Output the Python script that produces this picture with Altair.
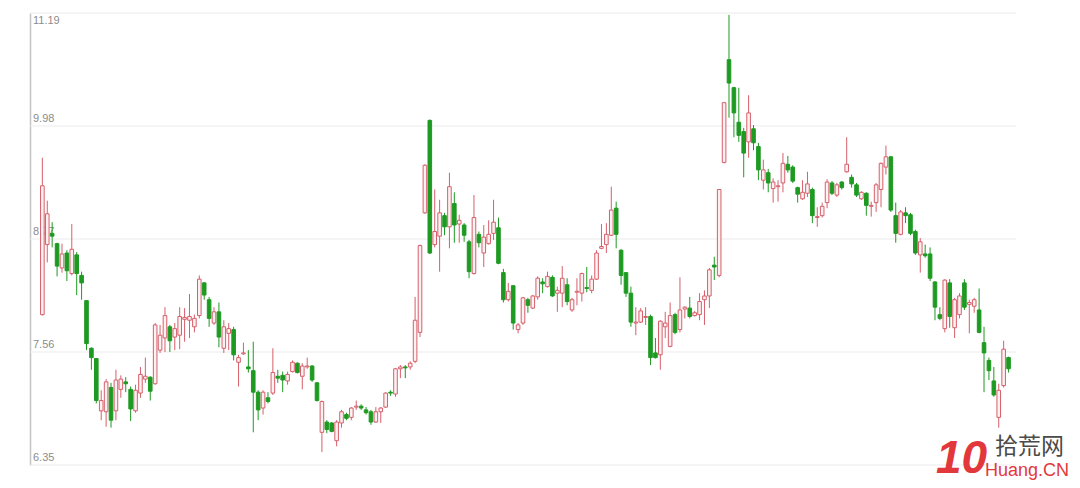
import altair as alt
import pandas as pd

opens = [7.96, 8.71, 8.83, 8.72, 8.46, 8.62, 8.40, 8.60, 8.38, 8.11,
         7.60, 7.49, 6.93, 6.92, 7.18, 6.93, 7.16, 7.24, 7.16, 6.93,
         7.12, 7.27, 7.29, 7.22, 7.58, 7.71, 7.83, 7.72, 7.74, 7.91,
         7.90, 7.83, 7.95, 8.30, 8.12, 7.87, 7.99, 7.60, 7.76, 7.80,
         7.45, 7.54, 7.40, 7.36, 7.13, 6.96, 7.07, 7.12, 7.30, 7.31,
         7.25, 7.35, 7.44, 7.30, 7.40, 7.41, 7.23, 6.70, 6.81, 6.80,
         6.61, 6.80, 6.89, 6.86, 6.97, 6.98, 6.94, 6.92, 6.81, 6.92,
         6.97, 7.13, 7.11, 7.38, 7.40, 7.40, 7.46, 7.77, 9.05, 10.04,
         8.71, 8.80, 9.02, 8.90, 9.15, 8.93, 8.92, 8.74, 8.40, 8.82,
         8.62, 8.72, 8.83, 8.89, 8.41, 8.12, 8.27, 7.80, 7.87, 8.12,
         8.03, 8.15, 8.31, 8.26, 8.36, 8.19, 8.19, 8.28, 8.01, 8.20,
         8.19, 8.25, 8.22, 8.34, 8.67, 8.71, 8.81, 9.10, 8.65, 8.41,
         8.19, 7.87, 7.88, 7.93, 7.94, 7.55, 7.53, 7.83, 7.62, 7.96,
         7.80, 8.02, 8.03, 7.95, 7.96, 8.12, 8.16, 8.49, 8.38, 9.59,
         10.69, 10.39, 10.02, 9.92, 9.81, 9.95, 9.76, 9.40, 9.48, 9.31,
         9.33, 9.37, 9.57, 9.54, 9.32, 9.20, 9.26, 9.30, 9.00, 9.02,
         9.16, 9.37, 9.24, 9.38, 9.49, 9.43, 9.35, 9.20, 9.26, 9.12,
         9.16, 9.30, 9.54, 9.65, 9.02, 8.82, 9.05, 9.03, 8.85, 8.60,
         8.61, 8.61, 8.31, 7.96, 7.81, 8.30, 7.82, 7.96, 8.30, 8.07,
         8.05, 8.01, 7.66, 7.47, 7.25, 6.86, 7.20, 7.50]
highs = [9.64, 9.18, 8.95, 8.73, 8.72, 8.65, 8.93, 8.63, 8.42, 8.11,
         7.61, 7.49, 7.15, 7.27, 7.23, 7.37, 7.31, 7.29, 7.19, 7.21,
         7.40, 7.50, 7.30, 7.87, 7.85, 8.04, 7.85, 7.87, 8.04, 8.03,
         8.18, 7.96, 8.38, 8.31, 8.15, 8.04, 8.09, 7.90, 7.87, 7.83,
         7.53, 7.66, 7.58, 7.67, 7.15, 7.15, 7.13, 7.60, 7.37, 7.35,
         7.35, 7.47, 7.45, 7.44, 7.50, 7.42, 7.24, 7.04, 6.83, 6.81,
         6.83, 6.94, 6.91, 6.97, 7.04, 7.00, 6.97, 6.94, 6.97, 6.97,
         7.13, 7.15, 7.39, 7.42, 7.42, 7.46, 8.15, 8.71, 9.57, 10.05,
         9.30, 9.19, 9.05, 9.48, 9.27, 9.03, 8.94, 8.76, 9.24, 8.85,
         8.92, 8.97, 9.19, 9.00, 8.45, 8.30, 8.27, 7.87, 8.15, 8.14,
         8.17, 8.37, 8.35, 8.42, 8.38, 8.26, 8.48, 8.35, 8.14, 8.35,
         8.41, 8.47, 8.38, 8.65, 8.93, 8.94, 9.33, 9.17, 8.66, 8.41,
         8.26, 8.04, 8.03, 8.04, 7.96, 7.71, 7.90, 7.99, 8.09, 7.98,
         8.36, 8.05, 8.15, 8.00, 8.19, 8.22, 8.46, 8.58, 9.30, 10.23,
         11.17, 10.40, 10.39, 9.96, 10.31, 9.99, 9.80, 9.62, 9.52, 9.42,
         9.40, 9.69, 9.66, 9.56, 9.33, 9.40, 9.49, 9.32, 9.11, 9.16,
         9.41, 9.39, 9.37, 9.39, 9.86, 9.46, 9.37, 9.28, 9.27, 9.17,
         9.37, 9.59, 9.77, 9.66, 9.16, 9.08, 9.11, 9.05, 8.87, 8.78,
         8.71, 8.68, 8.32, 8.04, 8.34, 8.34, 8.14, 8.19, 8.34, 8.12,
         8.14, 8.24, 7.83, 7.50, 7.40, 7.22, 7.68, 7.51]
lows = [7.95, 8.52, 8.68, 8.37, 8.41, 8.32, 8.38, 8.17, 8.12, 7.58,
        7.37, 7.01, 6.83, 6.76, 6.75, 6.83, 7.07, 7.13, 6.82, 6.91,
        7.07, 7.23, 7.04, 7.21, 7.55, 7.56, 7.56, 7.58, 7.59, 7.67,
        7.71, 7.77, 7.92, 8.12, 7.83, 7.85, 7.61, 7.55, 7.58, 7.47,
        7.19, 7.53, 7.34, 6.70, 6.83, 6.89, 7.01, 7.10, 7.23, 7.13,
        7.21, 7.34, 7.33, 7.16, 7.38, 7.24, 7.03, 6.49, 6.69, 6.70,
        6.55, 6.75, 6.83, 6.83, 6.94, 6.94, 6.89, 6.78, 6.80, 6.80,
        6.96, 7.09, 7.08, 7.28, 7.28, 7.37, 7.44, 7.72, 9.04, 8.61,
        8.68, 8.42, 8.81, 8.67, 8.73, 8.73, 8.74, 8.35, 8.39, 8.68,
        8.47, 8.71, 8.76, 8.50, 8.09, 8.10, 7.80, 7.76, 7.85, 7.98,
        8.02, 8.12, 8.19, 8.25, 8.15, 7.99, 8.04, 8.06, 7.99, 8.06,
        8.10, 8.20, 8.19, 8.33, 8.66, 8.62, 8.80, 8.67, 8.28, 8.15,
        7.83, 7.74, 7.87, 7.85, 7.42, 7.49, 7.37, 7.71, 7.61, 7.75,
        7.77, 7.92, 7.92, 7.94, 7.90, 7.85, 8.03, 8.33, 8.36, 9.58,
        10.07, 9.86, 9.81, 9.43, 9.64, 9.72, 9.40, 9.30, 9.27, 9.16,
        9.17, 9.27, 9.48, 9.37, 9.16, 9.19, 9.22, 8.94, 8.90, 9.00,
        9.10, 9.24, 9.22, 9.30, 9.48, 9.32, 9.22, 9.19, 9.02, 9.01,
        9.06, 9.11, 9.46, 9.06, 8.73, 8.81, 8.94, 8.81, 8.60, 8.41,
        8.57, 8.32, 7.90, 7.90, 7.77, 7.82, 7.71, 7.92, 8.01, 7.76,
        7.98, 7.76, 7.13, 7.26, 7.08, 6.75, 7.18, 7.34]
closes = [9.34, 9.04, 8.80, 8.48, 8.61, 8.43, 8.66, 8.40, 8.30, 7.65,
          7.50, 7.04, 7.04, 7.24, 6.83, 7.26, 7.27, 7.22, 6.95, 7.15,
          7.32, 7.30, 7.14, 7.85, 7.74, 7.95, 7.68, 7.81, 7.94, 7.93,
          7.94, 7.92, 8.34, 8.17, 7.92, 7.99, 7.72, 7.83, 7.81, 7.53,
          7.50, 7.55, 7.38, 7.13, 6.94, 7.13, 7.03, 7.34, 7.28, 7.26,
          7.32, 7.45, 7.34, 7.41, 7.41, 7.26, 7.04, 7.03, 6.73, 6.71,
          6.81, 6.92, 6.85, 6.96, 6.98, 6.96, 6.91, 6.81, 6.92, 6.96,
          7.12, 7.12, 7.38, 7.40, 7.39, 7.44, 7.90, 8.70, 9.56, 8.62,
          8.85, 9.05, 8.90, 9.33, 8.92, 8.97, 8.81, 8.42, 9.00, 8.73,
          8.79, 8.82, 8.95, 8.51, 8.12, 8.21, 7.87, 7.85, 8.14, 8.06,
          8.16, 8.35, 8.29, 8.37, 8.16, 8.22, 8.35, 8.10, 8.12, 8.21,
          8.40, 8.24, 8.34, 8.62, 8.69, 8.82, 9.08, 8.82, 8.38, 8.19,
          7.88, 7.88, 8.00, 7.94, 7.50, 7.50, 7.89, 7.87, 7.95, 7.77,
          8.01, 8.04, 7.94, 7.98, 8.10, 8.16, 8.44, 8.47, 9.30, 10.23,
          10.44, 10.12, 9.88, 9.69, 10.12, 9.80, 9.51, 9.51, 9.37, 9.38,
          9.34, 9.58, 9.51, 9.39, 9.25, 9.27, 9.36, 9.02, 9.01, 9.12,
          9.38, 9.26, 9.35, 9.32, 9.57, 9.36, 9.24, 9.27, 9.13, 9.13,
          9.35, 9.58, 9.65, 9.08, 8.83, 9.06, 9.02, 8.83, 8.62, 8.74,
          8.59, 8.35, 8.04, 7.92, 8.33, 7.94, 8.12, 8.16, 8.04, 8.09,
          8.12, 7.77, 7.55, 7.36, 7.10, 7.15, 7.59, 7.38]
# candle colour as drawn (red = rising, green = falling)
green_idx = {2, 3, 5, 7, 8, 9, 10, 11, 14, 17, 18, 22, 26, 33, 34, 36, 39,
             42, 43, 44, 46, 48, 49, 52, 55, 56, 58, 59, 62, 65, 66, 67, 71,
             74, 79, 82, 84, 86, 87, 89, 93, 94, 96, 99, 102, 104, 107, 111,
             117, 118, 119, 120, 124, 125, 129, 132, 137, 140, 141, 142, 143,
             145, 146, 148, 152, 153, 154, 157, 161, 163, 165, 166, 168, 173,
             174, 176, 177, 178, 180, 181, 182, 183, 185, 188, 191, 192, 193,
             194, 197}

tick_values = [6.35, 7.56, 8.77, 9.98, 11.19]
tick_labels = ["6.35", "7.56", "8.77", "9.98", "11.19"]

RED = "#d65f6b"
RED_FILL = "#fdf1f1"
GREEN = "#1e9a22"

df = pd.DataFrame({
    "i": list(range(len(opens))),
    "open": opens, "high": highs, "low": lows, "close": closes,
})
df["dir"] = ["down" if k in green_idx else "up" for k in df["i"]]

xs = alt.Scale(domain=[-1.5, 197.5], nice=False, zero=False)
ys = alt.Scale(domain=[6.35, 11.19], nice=False, zero=False)

base = alt.Chart(df)

grid = alt.Chart(pd.DataFrame({"v": tick_values})).mark_rule(
    color="#ebebeb", strokeWidth=1
).encode(y=alt.Y("v:Q", scale=ys, axis=alt.Axis(
    values=tick_values, grid=False, labels=False, ticks=False, title=None,
    domain=True, domainColor="#c4c4c4", domainWidth=1.5)))

wicks = base.mark_rule(strokeWidth=1).encode(
    x=alt.X("i:Q", scale=xs, axis=None),
    y=alt.Y("low:Q", scale=ys),
    y2="high:Q",
    color=alt.Color("dir:N", scale=alt.Scale(domain=["up", "down"], range=[RED, GREEN]), legend=None),
)

bodies = base.mark_bar(size=3.6, strokeWidth=1).encode(
    x=alt.X("i:Q", scale=xs, axis=None),
    y=alt.Y("open:Q", scale=ys),
    y2="close:Q",
    fill=alt.Fill("dir:N", scale=alt.Scale(domain=["up", "down"], range=[RED_FILL, GREEN]), legend=None),
    stroke=alt.Stroke("dir:N", scale=alt.Scale(domain=["up", "down"], range=[RED, GREEN]), legend=None),
)

lab_df = pd.DataFrame({"v": tick_values, "t": tick_labels})
labels_low = alt.Chart(lab_df[lab_df["v"] < 11]).mark_text(
    align="left", baseline="bottom", dy=-2, fontSize=11, font="Liberation Sans", color="#8c8c8c"
).encode(x=alt.value(3), y=alt.Y("v:Q", scale=ys), text="t:N")
labels_top = alt.Chart(lab_df[lab_df["v"] > 11]).mark_text(
    align="left", baseline="top", dy=2, fontSize=11, font="Liberation Sans", color="#8c8c8c"
).encode(x=alt.value(3), y=alt.Y("v:Q", scale=ys), text="t:N")

wm_df = pd.DataFrame({"a": ["10"], "b": ["拾荒网"], "c": ["Huang.CN"]})
wm1 = alt.Chart(wm_df).mark_text(
    align="left", baseline="middle", fontSize=46, fontWeight="bold", fontStyle="italic",
    font="Liberation Sans", color="#e2383c"
).encode(x=alt.value(906), y=alt.value(446), text="a:N")
wm2 = alt.Chart(wm_df).mark_text(
    align="left", baseline="middle", fontSize=23, font="Noto Sans CJK SC", color="#4a4a4a"
).encode(x=alt.value(965), y=alt.value(434), text="b:N")
wm3 = alt.Chart(wm_df).mark_text(
    align="left", baseline="middle", fontSize=18, font="Liberation Sans", color="#e2383c"
).encode(x=alt.value(955), y=alt.value(458), text="c:N")

chart = alt.layer(grid, labels_low, labels_top, wicks, bodies, wm1, wm2, wm3).properties(
    width=986, height=452,
    padding={"left": 22, "top": 5, "right": 56, "bottom": 20},
    autosize=alt.AutoSizeParams(type="none"),
).configure_view(strokeWidth=0).resolve_scale(color="independent")

chart.save("out.html", embed_options={"renderer": "svg", "actions": False})
